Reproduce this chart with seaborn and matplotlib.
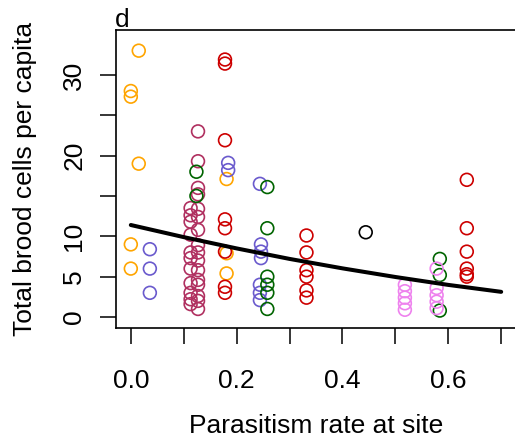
import numpy as np
import pandas as pd
import matplotlib
matplotlib.use("Agg")
import matplotlib.pyplot as plt
import seaborn as sns

# ---- data ----
orange_x = [0.0, 0.0, 0.0, 0.0, 0.015, 0.015, 0.181, 0.181, 0.181]
orange_y = [28.0, 27.3, 9.0, 6.0, 33.0, 19.0, 17.1, 7.9, 5.4]

blue_x = [0.036, 0.036, 0.036, 0.184, 0.184, 0.244, 0.246, 0.246, 0.246, 0.244, 0.244, 0.244]
blue_y = [8.4, 6.0, 3.0, 19.1, 18.2, 16.5, 9.0, 8.1, 7.3, 4.0, 3.0, 2.1]

maroon_x = [0.113] * 11 + [0.127] * 16
maroon_y = [13.5, 12.6, 11.8, 10.2, 8.0, 7.3, 6.0, 4.2, 3.0, 2.2, 1.6,
            23.0, 19.3, 16.0, 15.2, 13.4, 12.4, 10.8, 8.9, 8.0, 7.0, 5.8, 4.6, 4.0, 2.6, 2.0, 1.0]

green_x = [0.124, 0.124, 0.258, 0.258, 0.258, 0.258, 0.258, 0.258, 0.584, 0.584, 0.584]
green_y = [18.0, 15.0, 16.1, 11.0, 5.0, 4.0, 3.0, 1.0, 7.2, 5.2, 0.8]

red_x = [0.178] * 8 + [0.332] * 6 + [0.635] * 6
red_y = [31.9, 31.4, 21.9, 12.1, 11.0, 8.1, 3.75, 3.0,
         10.1, 8.0, 5.8, 5.0, 3.3, 2.4,
         17.0, 11.0, 8.1, 6.0, 5.3, 5.0]

black_x = [0.444]
black_y = [10.5]

violet_x = [0.518] * 5 + [0.578] * 5
violet_y = [4.0, 3.2, 2.4, 1.7, 0.9, 6.0, 3.6, 2.7, 1.9, 1.1]

# fitted curve, read at the x ticks
fit_x = [0.0, 0.1, 0.2, 0.3, 0.4, 0.5, 0.6, 0.7]
fit_y = [11.4, 9.9, 8.5, 7.2, 6.03, 4.96, 3.98, 3.12]

x_ticks = [0.0, 0.1, 0.2, 0.3, 0.4, 0.5, 0.6, 0.7]
x_labels = ["0.0", "", "0.2", "", "0.4", "", "0.6", ""]
y_ticks = [0, 5, 10, 15, 20, 25, 30]
y_labels = ["0", "5", "10", "", "20", "", "30"]

groups = {
    "orange": (orange_x, orange_y, "#FFA500"),
    "blue": (blue_x, blue_y, "#6A5ACD"),
    "maroon": (maroon_x, maroon_y, "#B03060"),
    "green": (green_x, green_y, "#006400"),
    "red": (red_x, red_y, "#CD0000"),
    "black": (black_x, black_y, "#000000"),
    "violet": (violet_x, violet_y, "#EE82EE"),
}

rows = []
for g, (xs, ys, c) in groups.items():
    for a, b in zip(xs, ys):
        rows.append({"x": a, "y": b, "group": g})
df = pd.DataFrame(rows)
palette = {g: v[2] for g, v in groups.items()}

sns.set_style("white")
plt.rcParams["font.family"] = ["Liberation Sans", "DejaVu Sans"]
plt.rcParams["text.color"] = "black"
plt.rcParams["axes.labelcolor"] = "black"
FS = 19

fig = plt.figure(figsize=(5.15, 4.37), dpi=100)
ax = fig.add_axes([116 / 515, 1 - 328 / 437, 400 / 515, 298 / 437])

sns.scatterplot(data=df, x="x", y="y", hue="group", palette=palette, s=85,
                marker="o", legend=False, ax=ax, zorder=3)
coll = ax.collections[0]
fc = coll.get_facecolors()
coll.set_edgecolors(fc)
coll.set_facecolors("none")
coll.set_linewidths(1.2)

sns.lineplot(x=fit_x, y=fit_y, color="black", linewidth=2.9, ax=ax, zorder=4)

ax.set_xlim(-0.028, 0.728)
ax.set_ylim(-1.36, 35.56)
ax.set_xticks(x_ticks)
ax.set_xticklabels(x_labels)
ax.set_yticks(y_ticks)
ax.set_yticklabels(y_labels, rotation=90, va="center")

for sp in ax.spines.values():
    sp.set_visible(True)
    sp.set_color("black")
    sp.set_linewidth(1.2)

ax.tick_params(axis="both", direction="out", length=11.5, width=1.1, color="black",
               labelsize=FS, labelcolor="black", bottom=True, left=True)
ax.tick_params(axis="x", pad=18)
ax.tick_params(axis="y", pad=10)

ax.set_xlabel("Parasitism rate at site", fontsize=FS, labelpad=15, color="black")
ax.set_ylabel("Total brood cells per capita", fontsize=FS, labelpad=18, color="black")
ax.set_title("d", loc="left", fontsize=FS, pad=2, x=-0.003, color="black")

fig.savefig("out.png", dpi=100)
